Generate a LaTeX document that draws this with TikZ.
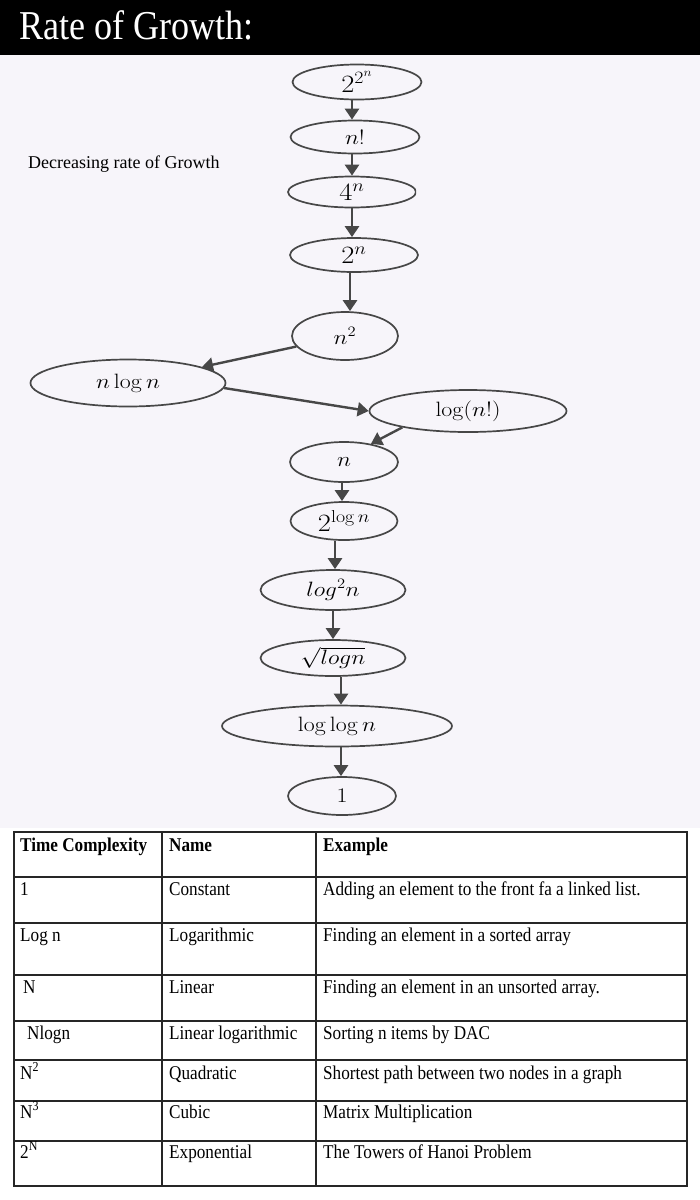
\documentclass[tikz,border=0pt]{standalone}
\usepackage[no-math]{fontspec}
\usepackage{graphicx}
\setmainfont{Liberation Serif}[FakeStretch=0.88]
\newfontfamily\plainserif{Liberation Serif}
\usetikzlibrary{shapes.geometric,arrows.meta}
\definecolor{bgl}{HTML}{F7F5FA}
\definecolor{inkc}{HTML}{474747}
\tikzset{
  ell/.style={ellipse, draw=inkc, line width=1.7pt, inner sep=0pt, font=\fontsize{22}{26}\selectfont},
  arr/.style={draw=inkc, line width=2.4pt, -{Triangle[length=11pt,width=14pt]}},
  cell/.style={anchor=base west, inner sep=0pt, font=\fontsize{19.5}{22}\selectfont},
  hcell/.style={anchor=base west, inner sep=0pt, font=\fontsize{19.5}{22}\selectfont\bfseries},
  grid/.style={draw=black!85, line width=1.3pt},
}
\newcommand\mw[1]{\scalebox{1.15}[1]{$#1$}}
\begin{document}
\begin{tikzpicture}[x=1pt,y=-1pt]
\useasboundingbox (0,0) rectangle (700,1200);
\fill[white] (0,0) rectangle (700,1200);
\fill[bgl] (0,55) rectangle (700,828);
\fill[black] (0,0) rectangle (700,55);
\node[anchor=base west, inner sep=0pt, text=white, font=\fontsize{41}{48}\selectfont] (title) at (19,39) {Rate of Growth:};
\node[anchor=base west, inner sep=0pt, font=\plainserif\fontsize{18}{21}\selectfont] (dec) at (28,168) {Decreasing rate of Growth};

% growth chain
\node[ell, minimum width=129pt, minimum height=35pt, font=\fontsize{24}{28}\selectfont] (a) at (357,82) {\mw{2^{2^n}}};
\node[ell, minimum width=129pt, minimum height=33pt] (b) at (355,137) {\mw{n!}};
\begin{scope}
\clip (0,0) rectangle (416,1200);
\node[ell, minimum width=128pt, minimum height=31pt, font=\fontsize{24}{28}\selectfont] (c) at (352,192) {\mw{4^n}};
\end{scope}
\node[ell, minimum width=128pt, minimum height=34pt, font=\fontsize{24}{28}\selectfont] (d) at (354,255) {\mw{2^n}};
\node[ell, minimum width=106pt, minimum height=48pt] (e) at (345,336) {\mw{n^2}};
\node[ell, minimum width=195pt, minimum height=47pt] (f) at (128,383) {\mw{n\log n}};
\node[ell, minimum width=197pt, minimum height=42pt] (g) at (468,411) {\mw{\log(n!)}};
\node[ell, minimum width=108pt, minimum height=40pt] (h) at (344,462) {\mw{n}};
\node[ell, minimum width=107pt, minimum height=38pt, font=\fontsize{24}{28}\selectfont] (i) at (344,521) {\mw{2^{\log n}}};
\node[ell, minimum width=145pt, minimum height=40pt] (j) at (333,590) {\mw{log^2 n}};
\node[ell, minimum width=145pt, minimum height=36pt] (k) at (333,658) {\mw{\sqrt{logn}}};
\node[ell, minimum width=230pt, minimum height=41pt] (l) at (337,726) {\mw{\log\log n}};
\node[ell, minimum width=108pt, minimum height=38pt] (m) at (342,796) {\mw{1}};

\draw[arr] ([xshift=-5pt]a.south) -- ([xshift=-5pt]a.south |- b.north);
\draw[arr] ([xshift=-3pt]b.south) -- ([xshift=-3pt]b.south |- c.north);
\draw[arr] (c.south) -- (c.south |- d.north);
\draw[arr] ([xshift=-4pt]d.south) -- ([xshift=-4pt]d.south |- e.north);
\draw[arr] (e) -- (f);
\draw[arr] (f.-3) -- (g.180);
\draw[arr] (g.194) -- (h.34);
\draw[arr] ([xshift=-2pt]h.south) -- ([xshift=-2pt]h.south |- i.north);
\draw[arr] ([xshift=-9pt]i.south) -- ([xshift=-9pt]i.south |- j.north);
\draw[arr] (j.south) -- (j.south |- k.north);
\draw[arr] ([xshift=8pt]k.south) -- ([xshift=8pt]k.south |- l.north);
\draw[arr] ([xshift=4pt]l.south) -- ([xshift=4pt]l.south |- m.north);

% table
\draw[grid] (14,832) rectangle (687,1186);
\foreach \yy in {877,923,975,1021,1060,1101,1141} \draw[grid] (14,\yy) -- (687,\yy);
\draw[grid] (162,832) -- (162,1186);
\draw[grid] (316,832) -- (316,1186);

\node[hcell] (h1) at (20,851) {Time Complexity};
\node[hcell] (h2) at (169,851) {Name};
\node[hcell] (h3) at (323,851) {Example};

\node[cell] (r1a) at (20,895) {1};
\node[cell] (r1b) at (169,895) {Constant};
\node[cell] (r1c) at (323,895) {Adding an element to the front fa a linked list.};

\node[cell] (r2a) at (20,941) {Log n};
\node[cell] (r2b) at (169,941) {Logarithmic};
\node[cell] (r2c) at (323,941) {Finding an element in a sorted array};

\node[cell] (r3a) at (23,993) {N};
\node[cell] (r3b) at (169,993) {Linear};
\node[cell] (r3c) at (323,993) {Finding an element in an unsorted array.};

\node[cell] (r4a) at (27,1039) {Nlogn};
\node[cell] (r4b) at (169,1039) {Linear logarithmic};
\node[cell] (r4c) at (323,1039) {Sorting n items by DAC};

\node[cell] (r5a) at (20,1079) {N\textsuperscript{2}};
\node[cell] (r5b) at (169,1079) {Quadratic};
\node[cell] (r5c) at (323,1079) {Shortest path between two nodes in a graph};

\node[cell] (r6a) at (20,1118) {N\textsuperscript{3}};
\node[cell] (r6b) at (169,1118) {Cubic};
\node[cell] (r6c) at (323,1118) {Matrix Multiplication};

\node[cell] (r7a) at (20,1158) {2\textsuperscript{N}};
\node[cell] (r7b) at (169,1158) {Exponential};
\node[cell] (r7c) at (323,1158) {The Towers of Hanoi Problem};
\end{tikzpicture}
\end{document}
